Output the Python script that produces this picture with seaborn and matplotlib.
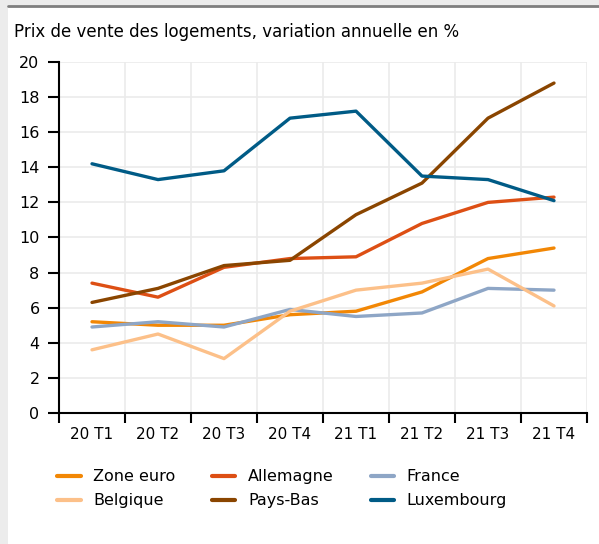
import numpy as np
import pandas as pd
import matplotlib
matplotlib.use("Agg")
import matplotlib.pyplot as plt
import seaborn as sns

# Data
quarters = ["20 T1", "20 T2", "20 T3", "20 T4", "21 T1", "21 T2", "21 T3", "21 T4"]
zone_euro = [5.2, 5.0, 5.0, 5.6, 5.8, 6.9, 8.8, 9.4]
allemagne = [7.4, 6.6, 8.3, 8.8, 8.9, 10.8, 12.0, 12.3]
france = [4.9, 5.2, 4.9, 5.9, 5.5, 5.7, 7.1, 7.0]
belgique = [3.6, 4.5, 3.1, 5.8, 7.0, 7.4, 8.2, 6.1]
pays_bas = [6.3, 7.1, 8.4, 8.7, 11.3, 13.1, 16.8, 18.8]
luxembourg = [14.2, 13.3, 13.8, 16.8, 17.2, 13.5, 13.3, 12.1]

series = {
    "Zone euro": zone_euro,
    "Allemagne": allemagne,
    "France": france,
    "Belgique": belgique,
    "Pays-Bas": pays_bas,
    "Luxembourg": luxembourg,
}
colors = {
    "Zone euro": "#f28705",
    "Allemagne": "#dd4f14",
    "France": "#8ea6c6",
    "Belgique": "#fcc089",
    "Pays-Bas": "#8a4500",
    "Luxembourg": "#005b86",
}

rows = []
for name, vals in series.items():
    for i, v in enumerate(vals):
        rows.append({"pos": i, "pays": name, "valeur": v})
df = pd.DataFrame(rows)

sns.set_style("white")
plt.rcParams["font.family"] = ["DejaVu Sans"]
plt.rcParams["text.color"] = "black"
plt.rcParams["xtick.color"] = "black"
plt.rcParams["ytick.color"] = "black"

fig = plt.figure(figsize=(5.99, 5.44), dpi=100)
fig.patch.set_facecolor("#ececec")
# white panel with grey top rule
fig.patches.append(plt.Rectangle((8 / 599, 0), 1, (544 - 7) / 544, transform=fig.transFigure,
                                 facecolor="white", edgecolor="none", zorder=-10))
fig.lines.append(plt.Line2D([8 / 599, 1], [1 - 6 / 544, 1 - 6 / 544], transform=fig.transFigure,
                            color="#7f7f7f", linewidth=2, zorder=-5))

ax = fig.add_axes([59 / 599, (544 - 413) / 544, (587 - 59) / 599, (413 - 62) / 544])
ax.set_facecolor("white")

sns.lineplot(data=df, x="pos", y="valeur", hue="pays", palette=colors,
             hue_order=list(series.keys()), linewidth=2.4, ax=ax, legend=False)

ax.set_xlim(-0.5, 7.5)
ax.set_ylim(0, 20)
ax.set_yticks(np.arange(0, 21, 2))
ax.set_xticks(np.arange(-0.5, 8, 1))
ax.set_xticklabels([])
ax.set_xticks(np.arange(0, 8), minor=True)
ax.set_xticklabels(quarters, minor=True)
ax.tick_params(axis="x", which="minor", length=0, pad=10, labelsize=11)
ax.tick_params(axis="x", which="major", length=7, width=1.5, direction="out", bottom=True)
ax.tick_params(axis="y", length=8, width=1.5, direction="out", left=True, pad=6, labelsize=11.5)
ax.grid(True, which="major", color="#ebebeb", linewidth=1.2)
ax.set_axisbelow(True)
for s in ["top", "right"]:
    ax.spines[s].set_visible(False)
for s in ["left", "bottom"]:
    ax.spines[s].set_color("black")
    ax.spines[s].set_linewidth(1.5)
ax.set_xlabel("")
ax.set_ylabel("")

fig.text(14 / 599, 1 - 32 / 544, "Prix de vente des logements, variation annuelle en %",
         fontsize=12, va="center", ha="left")

# legend
legend_order = ["Zone euro", "Belgique", "Allemagne", "Pays-Bas", "France", "Luxembourg"]
handles = [plt.Line2D([], [], color=colors[n], linewidth=3) for n in legend_order]
fig.legend(handles, legend_order, ncol=3, loc="upper left",
           bbox_to_anchor=(51 / 599, 1 - 463 / 544), frameon=False, fontsize=11.5,
           handlelength=1.45, columnspacing=2.3, labelspacing=0.55, handletextpad=0.8,
           borderaxespad=0)

fig.savefig("out.png", dpi=100)
